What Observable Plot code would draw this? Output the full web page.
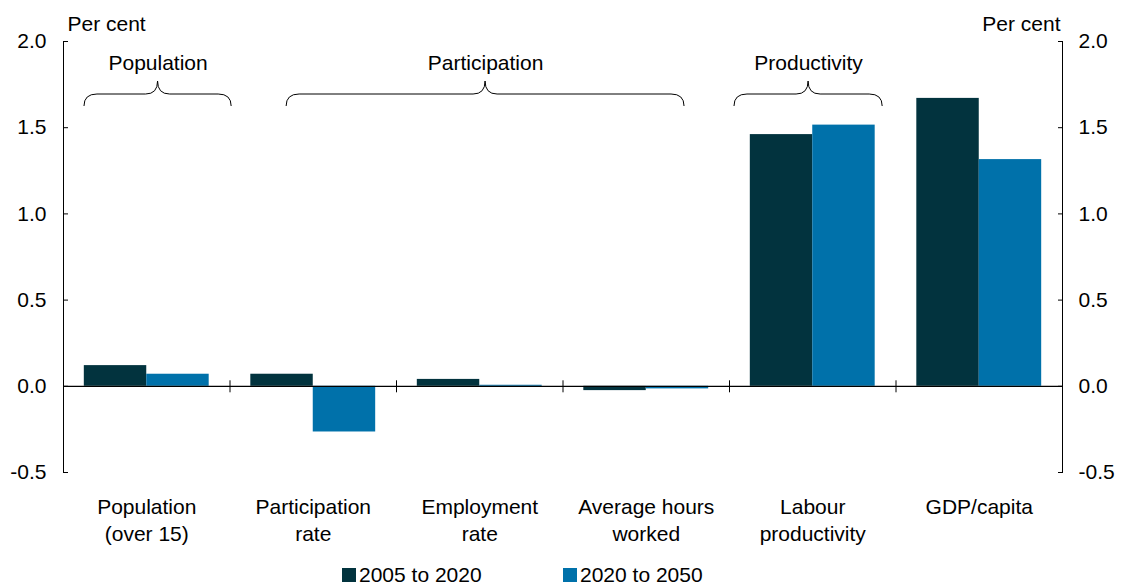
<!DOCTYPE html>
<html><head><meta charset="utf-8">
<script src="https://cdn.jsdelivr.net/npm/d3@7"></script>
<script src="https://cdn.jsdelivr.net/npm/@observablehq/plot@0.6"></script>
<style>
body{margin:0;background:#fff;font-family:"Liberation Sans",Arial,sans-serif;}
#wrap{position:relative;width:1123px;height:585px;overflow:hidden;}
#wrap svg{display:block;}
.leg{position:absolute;top:563px;height:24px;font-size:21px;display:flex;align-items:center;color:#000;white-space:nowrap;}
.sw{width:14px;height:14px;margin-right:3px;display:inline-block;}
</style></head><body><div id="wrap"></div>
<script>
// ---- data ----
const categories = ["Population\n(over 15)", "Participation\nrate", "Employment\nrate", "Average hours\nworked", "Labour\nproductivity", "GDP/capita"];
const seriesNames = ["2005 to 2020", "2020 to 2050"];
const values2005to2020 = [0.12, 0.07, 0.04, -0.025, 1.46, 1.67];
const values2020to2050 = [0.07, -0.265, 0.006, -0.015, 1.515, 1.315];
const yTicks = [-0.5, 0, 0.5, 1.0, 1.5, 2.0];
const groupLabels = ["Population", "Participation", "Productivity"];
const groupStart = [0.126, 1.34, 4.03];
const groupEnd = [1.01, 3.73, 4.92];
const colors = ["#02333e", "#0071aa"];

// ---- table ----
const seriesValues = [values2005to2020, values2020to2050];
const pad = 0.125, bw = 0.375;
const bars = [];
categories.forEach((c, i) => seriesValues.forEach((vals, s) => {
  bars.push({cat: c, i, series: seriesNames[s], s, value: vals[i]});
}));
const separators = d3.range(1, categories.length);
const fmt = d => d.toFixed(1);
const FS = 21;

const vline = {draw(ctx, size) { const r = Math.sqrt(size / Math.PI); ctx.moveTo(0, -r); ctx.lineTo(0, r); }};

function braces(index, scales, values, dims) {
  const g = d3.create("svg:g").attr("fill", "none").attr("stroke", "#000").attr("stroke-width", 1);
  const top = scales.y(2);
  const yEnd = top + 65, yH = top + 53, yTop = top + 40;
  groupLabels.forEach((lab, k) => {
    const x1 = scales.x(groupStart[k]), x2 = scales.x(groupEnd[k]), xm = (x1 + x2) / 2;
    const r = 13, r2 = 12;
    const d = `M${x1},${yEnd}Q${x1},${yH} ${x1 + r},${yH}L${xm - r2},${yH}Q${xm},${yH} ${xm},${yTop}` +
              `Q${xm},${yH} ${xm + r2},${yH}L${x2 - r},${yH}Q${x2},${yH} ${x2},${yEnd}`;
    g.append("path").attr("d", d);
  });
  return g.node();
}

const chart = Plot.plot({
  width: 1123,
  height: 555,
  marginLeft: 63,
  marginRight: 61,
  marginTop: 41,
  marginBottom: 83,
  style: {fontFamily: "'Liberation Sans', Arial, sans-serif", fontSize: FS + "px", color: "#000", background: "#fff"},
  x: {type: "linear", domain: [0, categories.length], axis: null},
  y: {domain: [-0.5, 2], ticks: yTicks, tickFormat: fmt, label: null},
  marks: [
    Plot.rect(bars, {
      x1: d => d.i + pad + d.s * bw,
      x2: d => d.i + pad + (d.s + 1) * bw,
      y1: 0,
      y2: "value",
      fill: d => colors[d.s]
    }),
    Plot.ruleY([0], {stroke: "#000", strokeWidth: 1.2}),
    Plot.ruleX([0, categories.length], {stroke: "#000", strokeWidth: 1}),
    Plot.dot(separators, {x: d => d, y: 0, symbol: vline, r: 6, stroke: "#000", strokeWidth: 1}),
    Plot.axisY(yTicks, {anchor: "left", tickSize: -5, tickPadding: 22, fontSize: FS, tickFormat: fmt, label: null}),
    Plot.axisY(yTicks, {anchor: "right", tickSize: -5, tickPadding: 21, fontSize: FS, tickFormat: fmt, label: null}),
    Plot.text(categories, {x: (d, i) => i + 0.5, frameAnchor: "bottom", lineAnchor: "top", dy: 22, lineHeight: 1.29, fontSize: FS, fill: "#000"}),
    Plot.text(groupLabels, {x: (d, i) => (groupStart[i] + groupEnd[i]) / 2, frameAnchor: "top", lineAnchor: "middle", dy: 22, fontSize: FS, fill: "#000"}),
    braces,
    Plot.text(["Per cent"], {frameAnchor: "top-left", lineAnchor: "middle", textAnchor: "start", dx: 4, dy: -17, fontSize: FS, fill: "#000"}),
    Plot.text(["Per cent"], {frameAnchor: "top-right", lineAnchor: "middle", textAnchor: "end", dx: -2, dy: -17, fontSize: FS, fill: "#000"})
  ]
});

const wrap = document.getElementById("wrap");
wrap.appendChild(chart);
const legLeft = [342, 563];
seriesNames.forEach((name, s) => {
  const item = document.createElement("div");
  item.className = "leg";
  item.style.left = legLeft[s] + "px";
  item.innerHTML = `<span class="sw" style="background:${colors[s]}"></span><span>${name}</span>`;
  wrap.appendChild(item);
});
</script>
</body></html>
